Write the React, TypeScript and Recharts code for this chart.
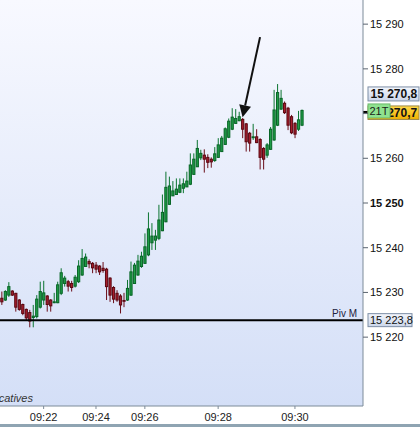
import {
  ComposedChart,
  Bar,
  XAxis,
  YAxis,
  CartesianGrid,
  ReferenceLine,
} from "recharts";

// 21-tick candles
const OPEN = [
  15228.7, 15228.3, 15229.4, 15230.3, 15229.8, 15228.3, 15227.3, 15226.2, 15225.5, 15224.4,
  15224.6, 15226.7, 15228.3, 15229.2, 15228.3, 15227.7, 15227.7, 15229.8, 15232.0, 15232.4,
  15232.0, 15231.4, 15232.4, 15233.9, 15235.8, 15236.9, 15236.5, 15236.1, 15235.9, 15235.4,
  15235.2, 15233.2, 15231.1, 15229.8, 15229.2, 15228.2, 15228.3, 15229.4, 15232.0, 15233.9,
  15235.8, 15236.5, 15238.4, 15241.1, 15241.7, 15242.1, 15243.8, 15245.8, 15249.7, 15251.6,
  15251.9, 15252.4, 15253.3, 15253.6, 15254.2, 15256.4, 15258.1, 15260.1, 15260.7, 15260.2,
  15259.8, 15259.5, 15260.2, 15261.5, 15263.1, 15264.7, 15266.5, 15267.8, 15268.4, 15268.7,
  15267.7, 15265.6, 15264.6, 15264.8, 15264.2, 15262.2, 15260.7, 15262.0, 15264.1, 15267.4,
  15271.0, 15272.3, 15271.2, 15269.3, 15267.8, 15266.5, 15267.4,
];
const HIGH = [
  15230.2, 15230.5, 15232.3, 15230.5, 15229.9, 15228.5, 15227.5, 15226.4, 15226.1, 15227.2,
  15229.4, 15232.4, 15232.6, 15229.4, 15228.5, 15229.9, 15232.4, 15235.4, 15233.7, 15232.8,
  15232.6, 15233.9, 15237.2, 15239.7, 15238.7, 15237.4, 15236.8, 15236.8, 15236.1, 15236.8,
  15235.5, 15233.4, 15231.4, 15230.5, 15229.6, 15229.9, 15232.8, 15236.9, 15236.6, 15238.4,
  15239.1, 15243.2, 15247.9, 15245.5, 15244.0, 15249.6, 15251.9, 15257.0, 15255.9, 15254.9,
  15255.5, 15255.5, 15255.5, 15257.0, 15261.1, 15261.1, 15264.1, 15261.9, 15262.0, 15260.9,
  15260.2, 15262.5, 15264.5, 15265.0, 15266.9, 15268.9, 15271.2, 15271.0, 15270.4, 15269.0,
  15267.9, 15265.9, 15267.7, 15266.5, 15264.5, 15262.5, 15263.4, 15267.0, 15275.3, 15276.6,
  15275.3, 15272.7, 15271.5, 15269.7, 15268.1, 15270.6, 15270.9,
];
const LOW = [
  15227.2, 15228.1, 15229.0, 15229.2, 15225.7, 15225.9, 15224.9, 15223.8, 15222.2, 15222.2,
  15224.2, 15226.4, 15227.2, 15225.7, 15225.7, 15227.6, 15227.6, 15229.4, 15231.3, 15230.2,
  15230.2, 15231.1, 15232.1, 15233.7, 15235.7, 15235.4, 15234.3, 15234.3, 15233.9, 15234.4,
  15228.3, 15227.9, 15227.6, 15227.9, 15225.3, 15226.7, 15228.1, 15229.2, 15231.9, 15233.7,
  15235.5, 15236.4, 15238.1, 15239.5, 15239.5, 15241.7, 15243.7, 15245.7, 15249.6, 15251.6,
  15251.8, 15252.2, 15252.2, 15253.6, 15254.0, 15256.3, 15258.1, 15259.6, 15256.8, 15257.8,
  15257.9, 15259.2, 15260.1, 15261.4, 15263.0, 15264.5, 15266.3, 15267.7, 15268.3, 15264.5,
  15261.5, 15261.5, 15264.1, 15263.4, 15257.5, 15257.5, 15260.1, 15261.9, 15263.9, 15267.2,
  15270.8, 15269.9, 15266.3, 15265.4, 15264.5, 15266.1, 15267.2,
];
const CLOSE = [
  15227.9, 15230.2, 15231.3, 15229.4, 15226.7, 15226.2, 15225.3, 15224.3, 15223.6, 15224.7,
  15228.5, 15230.2, 15229.9, 15227.3, 15227.0, 15227.9, 15231.7, 15234.4, 15233.2, 15231.4,
  15231.1, 15233.4, 15235.9, 15237.6, 15237.9, 15236.4, 15235.5, 15235.2, 15234.6, 15234.9,
  15231.3, 15229.4, 15228.5, 15228.3, 15227.2, 15228.1, 15230.9, 15234.6, 15236.1, 15237.0,
  15238.1, 15240.2, 15244.2, 15242.6, 15242.6, 15246.2, 15247.9, 15253.5, 15253.8, 15252.7,
  15253.1, 15254.0, 15254.3, 15254.9, 15258.5, 15259.8, 15262.2, 15261.1, 15259.8, 15259.1,
  15259.2, 15261.0, 15263.0, 15264.5, 15266.6, 15268.3, 15269.2, 15268.9, 15269.3, 15266.5,
  15263.7, 15263.4, 15264.8, 15263.5, 15260.2, 15259.8, 15263.0, 15266.5, 15270.8, 15274.7,
  15273.4, 15270.2, 15267.4, 15265.7, 15265.4, 15268.6, 15270.7,
];

const SLOTS = 104; // candles + empty room before the price scale
const TIME_TICKS = [12, 27, 41, 62, 84];
const TIME_LABELS = ["09:22", "09:24", "09:26", "09:28", "09:30"];
const PRICE_TICKS = [15220, 15230, 15240, 15250, 15260, 15270, 15280, 15290];
const PRICE_MIN = 15204.6;
const PRICE_MAX = 15295.4;
const PIVOT = 15223.8;
const ASK = 15270.8;
const LAST = 15270.7;
const ARROW_FROM = { x: 74, y: 15287.1 };
const ARROW_TO = { x: 69, y: 15269.2 };

const FONT = "'Liberation Sans', Arial, sans-serif";

const data = Array.from({ length: SLOTS }, (_, i) =>
  i < OPEN.length
    ? {
        i,
        range: [LOW[i], HIGH[i]],
        o: OPEN[i],
        h: HIGH[i],
        l: LOW[i],
        c: CLOSE[i],
      }
    : { i, range: null },
);

function fmtPrice(v: number, dec = 0): string {
  const [int, frac] = v.toFixed(dec).split(".");
  return int.replace(/\B(?=(\d{3})+(?!\d))/g, " ") + (frac ? "," + frac : "");
}

function Candle(props: any) {
  const { x, y, width, height, payload } = props;
  if (!payload || payload.o == null || !height) return null;
  const { o, h, l, c } = payload;
  const up = c >= o;
  const k = height / (h - l);
  const yOf = (v: number) => y + (h - v) * k;
  const cx = x + width / 2;
  const top = yOf(Math.max(o, c));
  const bot = yOf(Math.min(o, c));
  const wick = up ? "#0b7430" : "#6a0d18";
  return (
    <g>
      <line x1={cx} x2={cx} y1={y} y2={y + height} stroke={wick} strokeWidth={1} />
      <rect
        x={cx - 1.1}
        y={top}
        width={2.2}
        height={Math.max(bot - top, 0.8)}
        fill={up ? "#1f9d47" : "#a61d2c"}
        stroke={up ? "#086526" : "#5a0811"}
        strokeWidth={1}
      />
    </g>
  );
}

function PriceTick(props: any) {
  const { x, y, payload } = props;
  // the 15 270 label sits under the current-price boxes
  if (Math.abs(payload.value - LAST) < 2) return null;
  return (
    <text
      x={x}
      y={y}
      dy={4}
      textAnchor="start"
      fontSize={11}
      fontFamily={FONT}
      fontWeight={payload.value === 15250 ? "bold" : "normal"}
      fill="#111"
    >
      {fmtPrice(payload.value)}
    </text>
  );
}

function PivotLabel(props: any) {
  const { viewBox } = props;
  if (!viewBox) return null;
  const right = viewBox.x + viewBox.width;
  const y = viewBox.y;
  return (
    <g fontFamily={FONT}>
      <text x={right - 6} y={y - 3} textAnchor="end" fontSize={10} fill="#1d2240">
        Piv M
      </text>
      <rect x={right + 5} y={y - 6.5} width={44} height={13} fill="url(#boxBlue)" stroke="#7d8ea6" />
      <text x={right + 7} y={y + 4} fontSize={11} fill="#111">
        {fmtPrice(PIVOT, 1)}
      </text>
    </g>
  );
}

function LastLabel(props: any) {
  const { viewBox } = props;
  if (!viewBox) return null;
  const right = viewBox.x + viewBox.width;
  const y = viewBox.y;
  return (
    <g fontFamily={FONT}>
      <line x1={right} x2={right + 5} y1={y + 1.5} y2={y + 1.5} stroke="#000" strokeWidth={2} />
      <rect x={right + 5} y={y - 23.5} width={51} height={14} fill="url(#boxBlue)" stroke="#7d8ea6" />
      <text x={right + 7.5} y={y - 12} fontSize={12} fontWeight="bold" fill="#111">
        {fmtPrice(ASK, 1)}
      </text>
      <rect x={right + 5} y={y - 4.5} width={51} height={13.5} fill="url(#boxYellow)" stroke="#9c8a4a" />
      <text x={right + 7.5} y={y + 6.5} fontSize={12} fontWeight="bold" fill="#111">
        {fmtPrice(LAST, 1)}
      </text>
      <rect x={right + 5} y={y - 6.5} width={22} height={14} fill="#8fe28f" stroke="#6cb86c" />
      <text x={right + 6.5} y={y + 5} fontSize={11} fill="#1a1a1a">
        21T
      </text>
    </g>
  );
}

function ArrowShape(props: any) {
  const { x1, y1, x2, y2 } = props;
  if (x1 == null) return null;
  const dx = x2 - x1;
  const dy = y2 - y1;
  const len = Math.hypot(dx, dy) || 1;
  const ux = dx / len;
  const uy = dy / len;
  const bx = x2 - ux * 12;
  const by = y2 - uy * 12;
  const pts = `${x2},${y2} ${bx - uy * 6},${by + ux * 6} ${bx + uy * 6},${by - ux * 6}`;
  return (
    <g>
      <line x1={x1} y1={y1} x2={bx} y2={by} stroke="#111" strokeWidth={2} />
      <polygon points={pts} fill="#111" />
    </g>
  );
}

export default function App() {
  return (
    <div
      style={{
        position: "absolute",
        left: 0,
        top: 0,
        width: 420,
        height: 427,
        background: "#fff",
        overflow: "hidden",
      }}
    >
      <svg width={0} height={0} style={{ position: "absolute" }}>
        <defs>
          <linearGradient id="plotBg" x1="0" y1="0" x2="0" y2="1">
            <stop offset="0%" stopColor="#f8f9ff" />
            <stop offset="100%" stopColor="#d4dff7" />
          </linearGradient>
          <linearGradient id="boxBlue" x1="0" y1="0" x2="0" y2="1">
            <stop offset="0%" stopColor="#f3f6fc" />
            <stop offset="100%" stopColor="#cbd6ea" />
          </linearGradient>
          <linearGradient id="boxYellow" x1="0" y1="0" x2="0" y2="1">
            <stop offset="0%" stopColor="#ffd84a" />
            <stop offset="100%" stopColor="#f0b000" />
          </linearGradient>
        </defs>
      </svg>
      <ComposedChart
        width={420}
        height={427}
        data={data}
        margin={{ top: 0, right: 0, bottom: 0, left: 0 }}
      >
        <CartesianGrid
          horizontal={false}
          vertical={false}
          fill="url(#plotBg)"
          fillOpacity={1}
          stroke="none"
        />
        <XAxis
          dataKey="i"
          height={21}
          ticks={TIME_TICKS}
          interval={0}
          tickFormatter={(v: number) => TIME_LABELS[TIME_TICKS.indexOf(v)] ?? ""}
          tickSize={3}
          tickMargin={4}
          tick={{ fontSize: 11, fill: "#222", fontFamily: FONT }}
          tickLine={{ stroke: "#7d8b99" }}
          axisLine={{ stroke: "#7d8b99" }}
        />
        <YAxis
          orientation="right"
          width={57}
          domain={[PRICE_MIN, PRICE_MAX]}
          allowDataOverflow
          ticks={PRICE_TICKS}
          interval={0}
          tick={<PriceTick />}
          tickSize={5}
          tickMargin={2}
          tickLine={{ stroke: "#5a6470" }}
          axisLine={{ stroke: "#7d8b99" }}
        />
        <Bar
          dataKey="range"
          isAnimationActive={false}
          shape={(p: any) => <Candle {...p} />}
        />
        <ReferenceLine
          y={PIVOT}
          stroke="#000"
          strokeWidth={2}
          label={(p: any) => <PivotLabel {...p} />}
        />
        <ReferenceLine
          y={LAST}
          stroke="none"
          label={(p: any) => <LastLabel {...p} />}
        />
        <ReferenceLine
          segment={[ARROW_FROM, ARROW_TO]}
          stroke="#111"
          shape={(p: any) => <ArrowShape {...p} />}
        />
      </ComposedChart>
      <div
        style={{
          position: "absolute",
          right: 387,
          top: 392,
          fontFamily: FONT,
          fontSize: 11,
          fontStyle: "italic",
          lineHeight: "12px",
          color: "#333",
          whiteSpace: "nowrap",
        }}
      >
        Indicatives
      </div>
      <div
        style={{
          position: "absolute",
          left: 0,
          top: 424,
          width: 420,
          height: 3,
          background: "#8fa4b2",
        }}
      />
    </div>
  );
}
